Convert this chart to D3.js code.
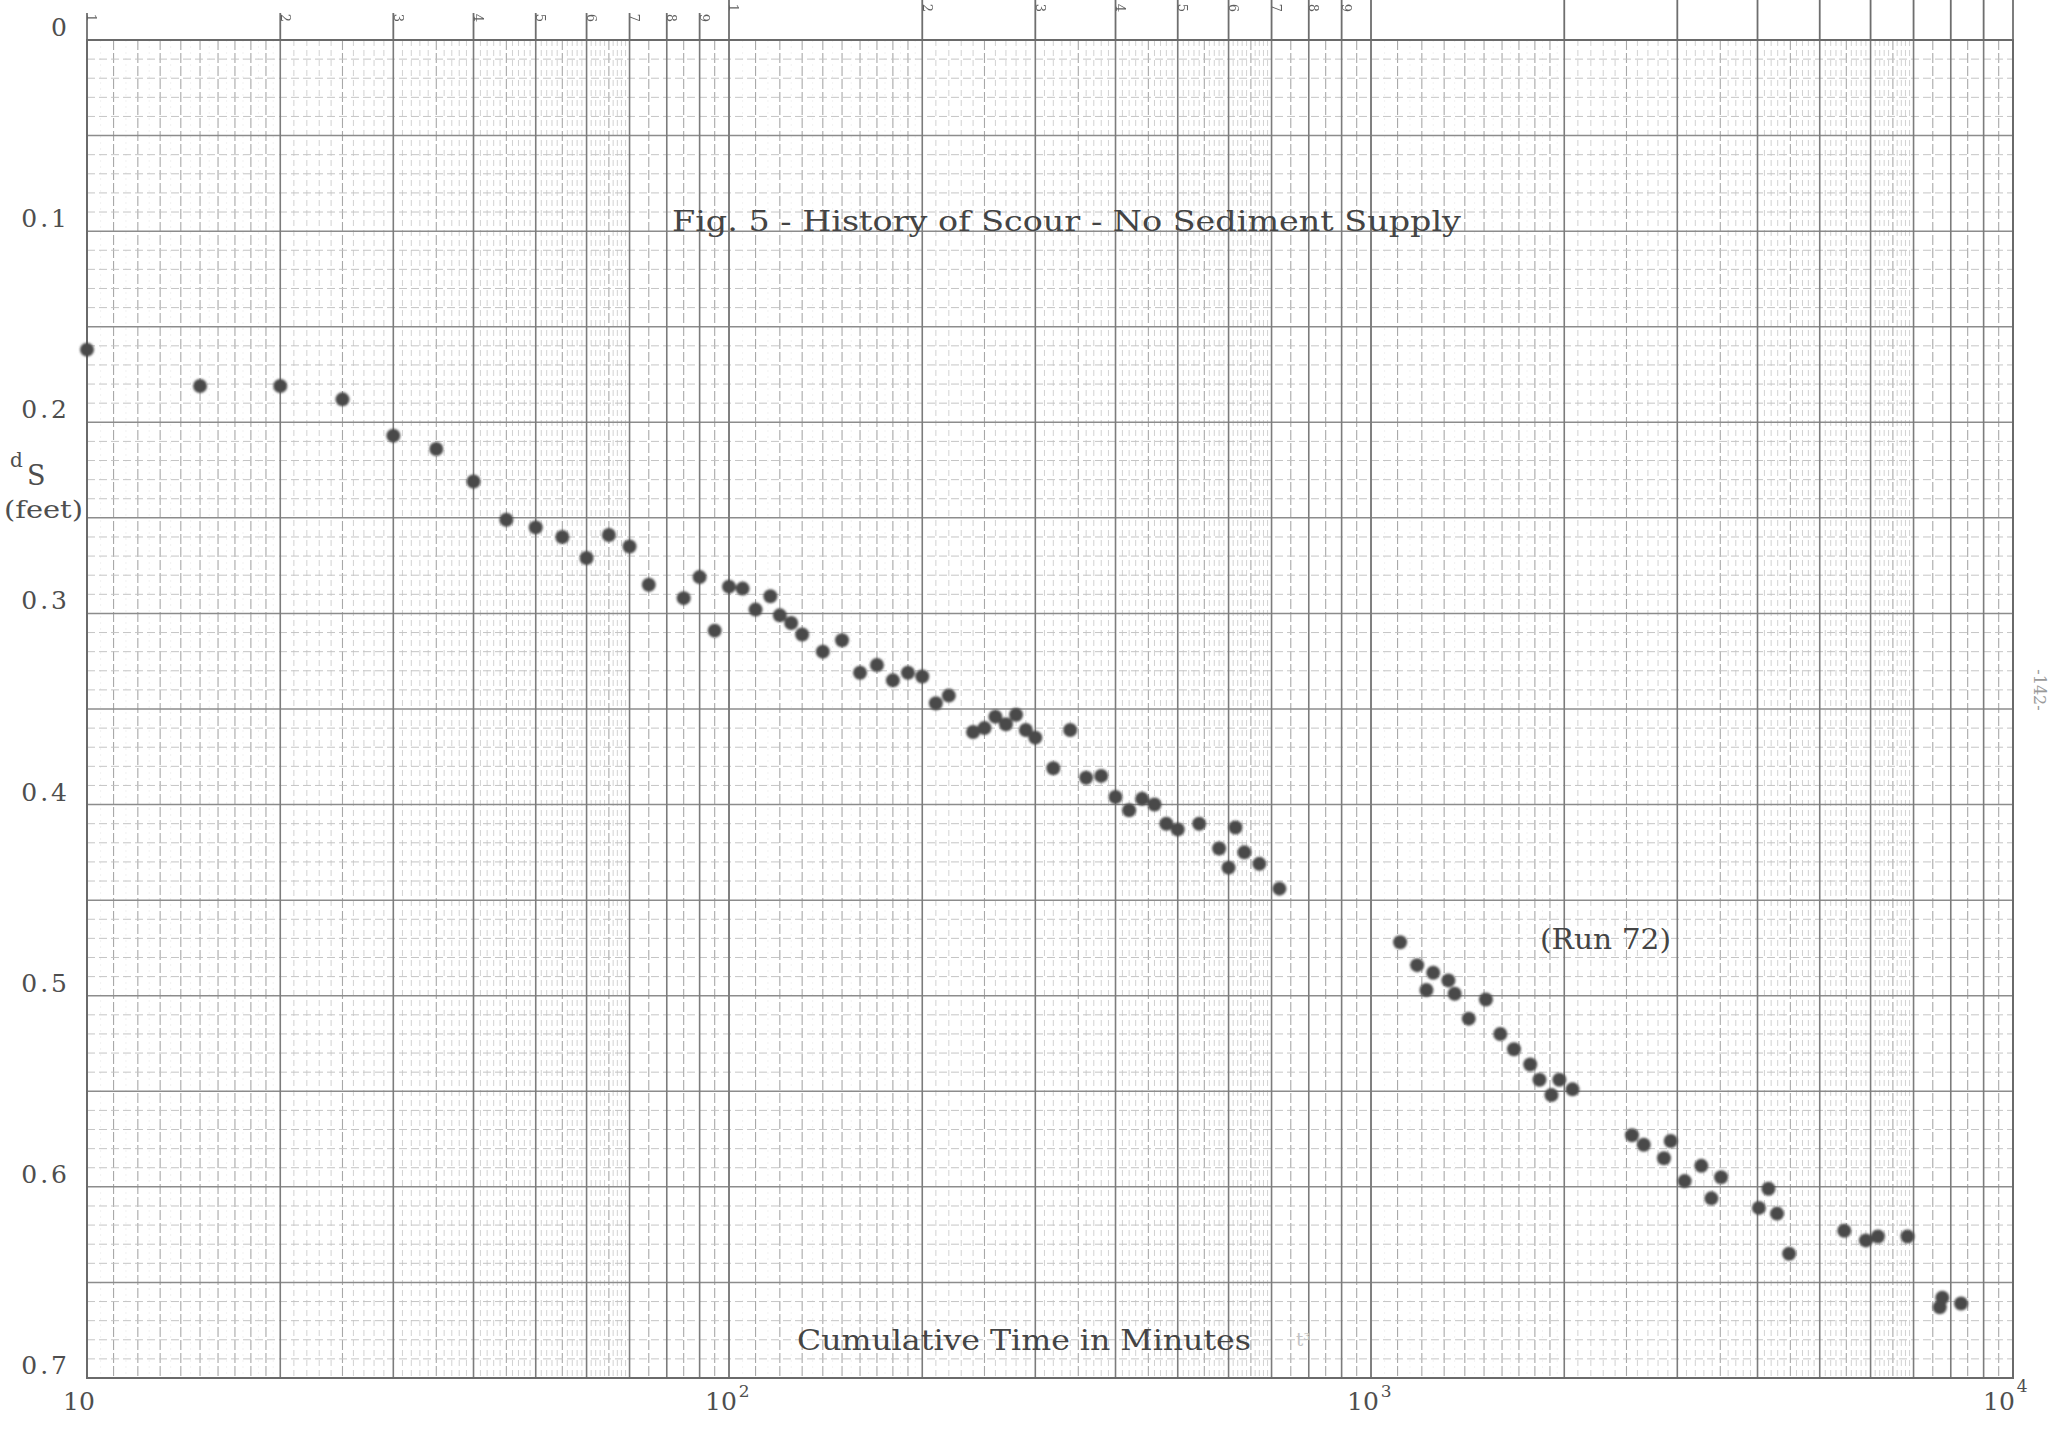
<!DOCTYPE html>
<html>
<head>
<meta charset="utf-8">
<script src="https://cdn.jsdelivr.net/npm/d3@7"></script>
<style>
  html, body { margin: 0; padding: 0; background: #ffffff; }
  svg { display: block; }
  text { font-family: "DejaVu Serif", "Liberation Serif", serif; fill: #4e4e4e; }
</style>
</head>
<body>
<svg id="chart" width="2048" height="1435"></svg>
<script>
// Run 72 - scour depth history, no sediment supply
const timeMin = [
  10, 15, 20, 25, 30, 35, 40, 45, 50, 55, 60, 65, 70, 75, 85, 90, 95, 100, 105, 110,
  116, 120, 125, 130, 140, 150, 160, 170, 180, 190, 200, 210, 220, 240, 250, 260, 270, 280, 290, 300,
  320, 340, 360, 380, 400, 420, 440, 460, 480, 500, 540, 580, 600, 615, 635, 670, 720,
  1110, 1180, 1220, 1250, 1320, 1350, 1420, 1510, 1590, 1670, 1770, 1830, 1910, 1965, 2060,
  2550, 2660, 2860, 2930, 3080, 3270, 3390, 3510, 4020, 4160, 4290, 4480, 5460, 5900, 6160, 6850,
  7690, 7760, 8300
];
const depthFt = [
  0.162, 0.181, 0.181, 0.188, 0.207, 0.214, 0.231, 0.251, 0.255, 0.260, 0.271, 0.259, 0.265, 0.285, 0.292, 0.281, 0.309, 0.286, 0.287, 0.298,
  0.291, 0.301, 0.305, 0.311, 0.320, 0.314, 0.331, 0.327, 0.335, 0.331, 0.333, 0.347, 0.343, 0.362, 0.360, 0.354, 0.358, 0.353, 0.361, 0.365,
  0.381, 0.361, 0.386, 0.385, 0.396, 0.403, 0.397, 0.400, 0.410, 0.413, 0.410, 0.423, 0.433, 0.412, 0.425, 0.431, 0.444,
  0.472, 0.484, 0.497, 0.488, 0.492, 0.499, 0.512, 0.502, 0.520, 0.528, 0.536, 0.544, 0.552, 0.544, 0.549,
  0.573, 0.578, 0.585, 0.576, 0.597, 0.589, 0.606, 0.595, 0.611, 0.601, 0.614, 0.635, 0.623, 0.628, 0.626, 0.626,
  0.663, 0.658, 0.661
];

// Axis ticks
const yTickValues = [0, 0.1, 0.2, 0.3, 0.4, 0.5, 0.6, 0.7];
const yTickLabels = ["0", "0.1", "0.2", "0.3", "0.4", "0.5", "0.6", "0.7"];
const decadeValues = [10, 100, 1000, 10000];
const decadeExponents = ["", "2", "3", "4"];
// Digits printed along the top of the first two log cycles of the paper
const cycleDigits = ["1", "2", "3", "4", "5", "6", "7", "8", "9"];

const titleText = "Fig. 5 - History of Scour - No Sediment Supply";
const runText = "(Run 72)";
const xTitle = "Cumulative Time in Minutes";

const svg = d3.select("#chart");
const W = 2048, H = 1435;

const x = d3.scaleLog().domain([10, 10000]).range([87, 2013]);
const y = d3.scaleLinear().domain([0, 0.7]).range([40, 1378]);

svg.append("rect").attr("width", W).attr("height", H).attr("fill", "#ffffff");

const defs = svg.append("defs");
defs.append("filter").attr("id", "soft")
  .append("feGaussianBlur").attr("stdDeviation", 0.55);
defs.append("filter").attr("id", "inkdot")
  .append("feGaussianBlur").attr("stdDeviation", 0.8);

const grid = svg.append("g").attr("filter", "url(#soft)");

// ---- vertical grid (log paper, three cycles) ----
const vFine = [], vMinor = [], vMid = [], vMajor = [];
[10, 100, 1000].forEach(base => {
  for (let k = 0; k <= 900; k++) {
    const m = 1 + k / 100;           // mantissa 1.00 .. 10.00
    const r = Math.round(m * 100);
    const v = base * m;
    if (r % 100 === 0) vMajor.push(v);
    else if (m < 2) {
      if (r % 10 === 0) vMid.push(v);
      else if (r % 5 === 0) vFine.push(v);
    } else if (m < 5) {
      if (r % 50 === 0) vMid.push(v);
      else if (r % 10 === 0) vMinor.push(v);
    } else {
      if (r % 50 === 0) vMid.push(v);
      else if (r % 10 === 0 && m < 7) vMinor.push(v);
    }
  }
});

function vLines(vals, color, width, dash) {
  grid.append("g").selectAll("line").data(vals).join("line")
    .attr("x1", d => x(d)).attr("x2", d => x(d))
    .attr("y1", y(0)).attr("y2", y(0.7))
    .attr("stroke", color).attr("stroke-width", width)
    .attr("stroke-dasharray", dash || null);
}
vLines(vFine, "#ededed", 0.8, "2 4");
vLines(vMinor, "#cdcdcd", 0.9, "6 4");
vLines(vMid, "#a8a8a8", 1.1, "10 3");

// ---- horizontal grid (linear) ----
const hMinor = [], hMajor = [];
for (let k = 0; k <= 70; k++) {
  const v = k / 100;
  if (k % 5 === 0) hMajor.push(v);
  else hMinor.push(v);
}
function hLines(vals, color, width, dash) {
  grid.append("g").selectAll("line").data(vals).join("line")
    .attr("x1", x(10)).attr("x2", x(10000))
    .attr("y1", d => y(d)).attr("y2", d => y(d))
    .attr("stroke", color).attr("stroke-width", width)
    .attr("stroke-dasharray", dash || null);
}
hLines(hMinor, "#c2c2c2", 0.95, "8 4");
hLines(hMajor, "#8c8c8c", 1.5, null);
vLines(vMajor, "#7c7c7c", 1.6, null);

// top extensions of the cycle lines and the printed cycle digits
const extTop = [13, 0, 0];
const digitY = [18, 8];
[10, 100, 1000].forEach((base, di) => {
  const g = grid.append("g");
  g.selectAll("line").data(cycleDigits).join("line")
    .attr("x1", d => x(base * +d)).attr("x2", d => x(base * +d))
    .attr("y1", extTop[di]).attr("y2", y(0))
    .attr("stroke", "#6e6e6e").attr("stroke-width", 1.8);
  if (di < digitY.length) {
    g.selectAll("text").data(cycleDigits).join("text")
      .attr("transform", d => `translate(${x(base * +d) + 5},${digitY[di]}) rotate(90)`)
      .attr("text-anchor", "middle")
      .attr("dy", "0.35em")
      .attr("font-size", 13)
      .style("fill", "#5e5e5e")
      .text(d => d);
  }
});
grid.append("line")
  .attr("x1", x(10000)).attr("x2", x(10000)).attr("y1", 0).attr("y2", y(0.7))
  .attr("stroke", "#707070").attr("stroke-width", 1.8);

// plot frame
grid.append("rect")
  .attr("x", x(10)).attr("y", y(0))
  .attr("width", x(10000) - x(10)).attr("height", y(0.7) - y(0))
  .attr("fill", "none").attr("stroke", "#6a6a6a").attr("stroke-width", 2);

// ---- y axis labels ----
const yAxis = svg.append("g");
yAxis.selectAll("text").data(yTickValues).join("text")
  .attr("x", 70).attr("y", d => y(d) - 4)
  .attr("text-anchor", "end")
  .attr("font-size", 25)
  .attr("letter-spacing", 3)
  .text((d, i) => yTickLabels[i]);

svg.append("text").attr("x", 10).attr("y", 467).attr("font-size", 20).text("d");
svg.append("text").attr("x", 27).attr("y", 485).attr("font-size", 27).text("S");
svg.append("text").attr("x", 4).attr("y", 518).attr("font-size", 24)
  .attr("textLength", 79).attr("lengthAdjust", "spacingAndGlyphs").text("(feet)");

// ---- x axis decade labels ----
const xAxis = svg.append("g");
decadeValues.forEach((v, i) => {
  const t = xAxis.append("text")
    .attr("x", x(v) - (i === 3 ? 30 : 24)).attr("y", 1410)
    .attr("font-size", 25);
  t.append("tspan").text("10");
  if (decadeExponents[i]) {
    t.append("tspan").attr("dx", 2).attr("dy", i === 3 ? -18 : -13)
      .attr("font-size", 17).text(decadeExponents[i]);
  }
});

// ---- titles and annotations ----
svg.append("text").attr("x", 672).attr("y", 231).attr("font-size", 28)
  .attr("textLength", 789).attr("lengthAdjust", "spacingAndGlyphs")
  .style("fill", "#444")
  .text(titleText);
svg.append("text").attr("x", 1540).attr("y", 949).attr("font-size", 28)
  .attr("textLength", 131).attr("lengthAdjust", "spacingAndGlyphs")
  .style("fill", "#444")
  .text(runText);
svg.append("text").attr("x", 797).attr("y", 1350).attr("font-size", 28)
  .attr("textLength", 454).attr("lengthAdjust", "spacingAndGlyphs")
  .style("fill", "#444")
  .text(xTitle);
svg.append("text").attr("x", 1296).attr("y", 1346).attr("font-size", 18)
  .style("fill", "#c4c4c4").text("t³");
svg.append("text")
  .attr("transform", "translate(2034,690) rotate(90)")
  .attr("text-anchor", "middle").attr("font-size", 16)
  .style("fill", "#9a9a9a").text("-142-");

// ---- data points ----
const pts = timeMin.map((t, i) => ({ t, d: depthFt[i] }));
svg.append("g").attr("filter", "url(#inkdot)")
  .selectAll("circle").data(pts).join("circle")
  .attr("cx", p => x(p.t)).attr("cy", p => y(p.d))
  .attr("r", 7)
  .attr("fill", "#484848");
</script>
</body>
</html>
